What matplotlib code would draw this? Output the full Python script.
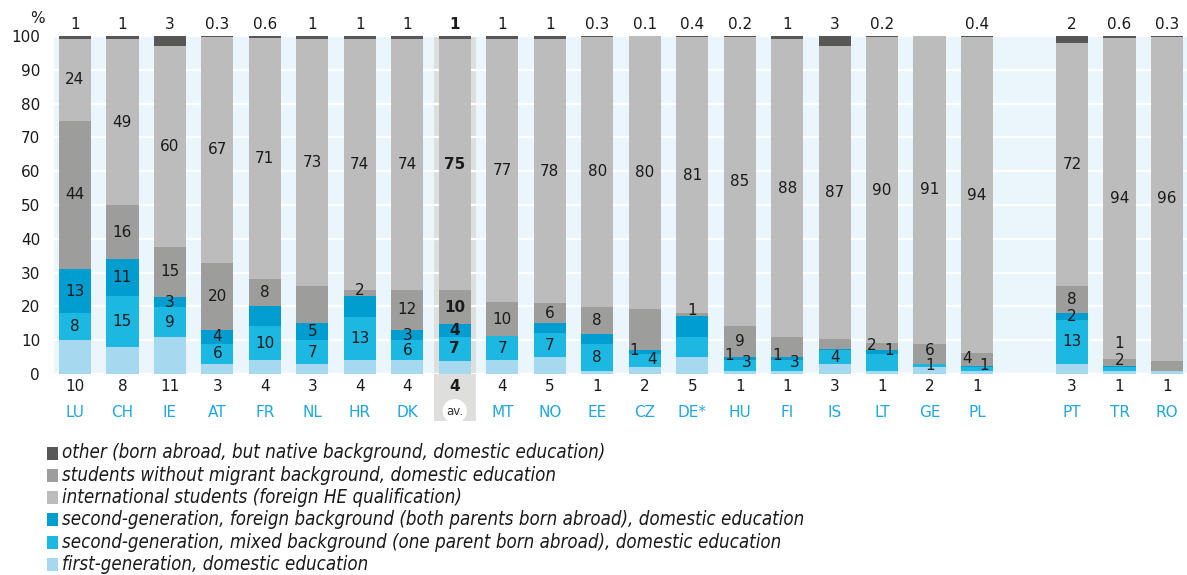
import matplotlib
matplotlib.use("Agg")
import matplotlib.pyplot as plt
from matplotlib import font_manager
from matplotlib.patches import Rectangle
import matplotlib.transforms as mtransforms
import numpy as np

countries = ["LU", "CH", "IE", "AT", "FR", "NL", "HR", "DK", "av.", "MT", "NO", "EE",
             "CZ", "DE*", "HU", "FI", "IS", "LT", "GE", "PL", "PT", "TR", "RO"]
# stacked bottom -> top, in %
first_gen = [10, 8, 11, 3, 4, 3, 4, 4, 4, 4, 5, 1, 2, 5, 1, 1, 3, 1, 2, 1, 3, 1, 1]
mixed = [8, 15, 9, 6, 10, 7, 13, 6, 7, 7, 7, 8, 4, 6, 3, 3, 4, 5, 1, 1, 13, 1, 0]
foreign = [13, 11, 3, 4, 6, 5, 6, 3, 4, 0, 3, 3, 1, 6, 1, 1, 0.5, 1, 0, 0.3, 2, 0.3, 0]
native = [44, 16, 15, 20, 8, 11, 2, 12, 10, 10, 6, 8, 12, 1, 9, 6, 3, 2, 6, 4, 8, 2, 3]
international = [24, 49, 60, 67, 71, 73, 74, 74, 75, 77, 78, 80, 80, 81, 85, 88, 87, 90,
                 91, 94, 72, 94, 96]
other = [1, 1, 3, 0.3, 0.6, 1, 1, 1, 1, 1, 1, 0.3, 0.1, 0.4, 0.2, 1, 3, 0.2, 0, 0.4, 2,
         0.6, 0.3]

# which in-bar values are printed
mixed_shown = [1] * 12 + [1, 0, 1, 1, 1, 0, 1, 1, 1, 1, 0]
foreign_shown = [1, 1, 1, 1, 0, 1, 0, 1, 1, 0, 0, 0, 1, 0, 1, 1, 0, 1, 0, 0, 1, 0, 0]
native_shown = [1, 1, 1, 1, 1, 0, 1, 1, 1, 1, 1, 1, 0, 1, 1, 0, 0, 1, 1, 1, 1, 1, 0]

# label nudges for thin segments: (country, series) -> (dx, y)
nudges = {
    ("CZ", "foreign"): (-0.22, 7.1), ("CZ", "mixed"): (0.15, 4.2),
    ("HU", "foreign"): (-0.22, 5.4), ("HU", "mixed"): (0.15, 3.4),
    ("FI", "foreign"): (-0.22, 5.4), ("FI", "mixed"): (0.15, 3.4),
    ("LT", "native"): (-0.22, 8.4), ("LT", "foreign"): (0.15, 7.1),
    ("GE", "native"): (0, 6.9), ("GE", "mixed"): (0, 2.4),
    ("PL", "native"): (-0.22, 4.6), ("PL", "mixed"): (0.15, 2.4),
    ("TR", "mixed"): (0, 9.1), ("TR", "native"): (0, 4.1),
    ("DE*", "native"): (0, 18.9), ("HR", "native"): (0, 24.8),
}

legend_labels = [
    "other (born abroad, but native background, domestic education)",
    "students without migrant background, domestic education",
    "international students (foreign HE qualification)",
    "second-generation, foreign background (both parents born abroad), domestic education",
    "second-generation, mixed background (one parent born abroad), domestic education",
    "first-generation, domestic education",
]

num_font = "DejaVu Sans"
have_cond = any(f.name == "DejaVu Sans" and f.stretch == "condensed"
                for f in font_manager.fontManager.ttflist)
leg_prop = dict(family="DejaVu Sans" if have_cond else "Liberation Sans", style="italic")
if have_cond:
    leg_prop["stretch"] = "condensed"

colors = {
    "first": "#a6d9f0", "mixed": "#1cb8e2", "foreign": "#009dd1",
    "native": "#9d9d9c", "intl": "#bcbcbc", "other": "#575756",
}
BG = "#eaf5fc"
TXT = "#1a1a1a"
FS = 11
FW, FH = 1187, 575

x = np.array(list(range(20)) + [21, 22, 23], dtype=float)
av_i = countries.index("av.")

data = np.array([first_gen, mixed, foreign, native, international, other], dtype=float)
shares = data / data.sum(axis=0) * 100

fig = plt.figure(figsize=(FW / 100, FH / 100), dpi=100)
ax = fig.add_axes([54 / FW, 1 - 374 / FH, 1 - 54 / FW, 338 / FH])
ax.set_facecolor(BG)
ax.set_xlim(-0.44, 23.42)
ax.set_ylim(0, 100)
for s in ax.spines.values():
    s.set_visible(False)

trans = mtransforms.blended_transform_factory(ax.transData, ax.transAxes)
ax.add_patch(Rectangle((x[av_i] - 0.44, -0.14), 0.88, 1.14, transform=trans,
                       facecolor="#dededd", edgecolor="none", zorder=0.5, clip_on=False))

ax.set_yticks(range(0, 101, 10))
ax.yaxis.grid(True, color="white", linewidth=1.6)
ax.set_axisbelow(True)
ax.tick_params(axis="y", length=0, pad=10, labelsize=FS, labelcolor=TXT)
for lab in ax.get_yticklabels():
    lab.set_fontfamily(num_font)
ax.text(-0.008, 1.052, "%", transform=ax.transAxes, ha="right", va="center",
        fontsize=FS, color=TXT, family=num_font)

keys = ["first", "mixed", "foreign", "native", "intl", "other"]
bars = {}
bottom = np.zeros(len(x))
W = 0.68
for k, vals in zip(keys, shares):
    bars[k] = ax.bar(x, vals, W, bottom=bottom, color=colors[k], linewidth=0, zorder=2)
    bottom = bottom + vals


def fmt(v):
    return f"{v:g}" if v < 1 else f"{v:.0f}"


shown = {"mixed": mixed_shown, "foreign": foreign_shown, "native": native_shown,
         "intl": [1] * len(x)}
raw = dict(zip(keys, data))
bottoms = dict(zip(keys, np.vstack([np.zeros(len(x)), np.cumsum(shares, axis=0)[:-1]])))
heights = dict(zip(keys, shares))
for k in ["mixed", "foreign", "native", "intl"]:
    for i, c in enumerate(countries):
        if not shown[k][i]:
            continue
        dx, y = nudges.get((c, k), (0, bottoms[k][i] + heights[k][i] / 2))
        ax.text(x[i] + dx, y, fmt(raw[k][i]), ha="center", va="center", fontsize=FS,
                color=TXT, family=num_font, zorder=4,
                fontweight="bold" if i == av_i else "normal")

for i, c in enumerate(countries):
    w = "bold" if i == av_i else "normal"
    if other[i] > 0:
        ax.text(x[i], 103.5, fmt(other[i]), ha="center", va="center", fontsize=FS,
                color=TXT, family=num_font, fontweight=w, clip_on=False)
    ax.text(x[i], -0.036, fmt(first_gen[i]), transform=trans, ha="center", va="center",
            fontsize=FS, color=TXT, family=num_font, fontweight=w)

ax.set_xticks(x)
ax.set_xticklabels(countries)
ax.tick_params(axis="x", length=0, pad=22, labelsize=FS, labelcolor="#1ea7e0")
for i, lab in enumerate(ax.get_xticklabels()):
    lab.set_fontfamily(num_font)
    if i == av_i:
        lab.set_fontsize(8.5)
        lab.set_color("#333333")
        lab.set_bbox(dict(boxstyle="circle,pad=0.3", facecolor="white", edgecolor="none"))

# legend drawn by hand so the rows keep the original 22 px pitch
probe = fig.text(0, 0, legend_labels[3], size=13, **leg_prop)
r = fig.canvas.get_renderer()
leg_size = 13 * 740 / probe.get_window_extent(r).width
probe.remove()

order = ["other", "native", "intl", "foreign", "mixed", "first"]
for j, (k, lab) in enumerate(zip(order, legend_labels)):
    yc = 453 + j * 22.3
    fig.patches.append(Rectangle((47 / FW, 1 - (yc + 6.5) / FH), 11 / FW, 13 / FH,
                                 transform=fig.transFigure, facecolor=colors[k],
                                 edgecolor="none"))
    fig.text(62 / FW, 1 - yc / FH, lab, ha="left", va="center", color=TXT,
             size=leg_size, **leg_prop)

fig.savefig("out.png", dpi=100, facecolor="white")
